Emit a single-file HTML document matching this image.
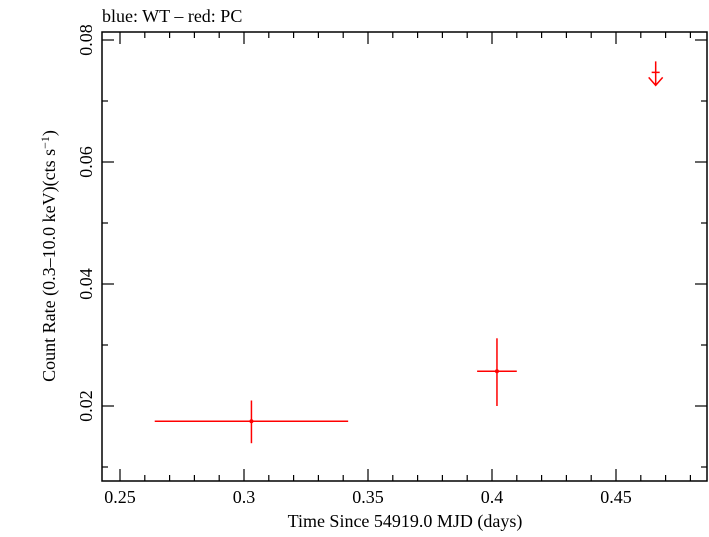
<!DOCTYPE html>
<html><head><meta charset="utf-8"><style>
body{margin:0;background:#fff}
svg text{font-family:"Liberation Serif",serif;fill:#000}
</style></head><body>
<svg id="c" width="709" height="532" xmlns="http://www.w3.org/2000/svg">
<text x="102" y="22" font-size="18">blue: WT – red: PC</text>
<rect x="102" y="32" width="605" height="449" fill="none" stroke="#000" stroke-width="1.5"/>
<g id="ticks"></g><g id="marks"></g>
<text x="405" y="527" font-size="18" text-anchor="middle">Time Since 54919.0 MJD (days)</text>
<text transform="translate(55,256) rotate(-90)" font-size="18" text-anchor="middle">Count Rate (0.3–10.0 keV)(cts s<tspan dy="-6" font-size="12">−1</tspan><tspan dy="6">)</tspan></text>
</svg>
<script>
const xTicks=[0.25,0.3,0.35,0.4,0.45];
const xTickLabels=["0.25","0.3","0.35","0.4","0.45"];
const yTicks=[0.02,0.04,0.06,0.08];
const yTickLabels=["0.02","0.04","0.06","0.08"];
const pcX=[0.303,0.402];
const pcXlo=[0.264,0.394];
const pcXhi=[0.342,0.410];
const pcY=[0.0175,0.0257];
const pcYlo=[0.0139,0.0200];
const pcYhi=[0.0209,0.0311];
const ulX=[0.466];
const ulY=[0.0765];
const L=102,R=707,T=32,B=481;
const X=v=>120+(v-0.25)*2480;
const Y=v=>406-(v-0.02)*6100;
const NS="http://www.w3.org/2000/svg";
function mk(tag,a,p){const e=document.createElementNS(NS,tag);for(const k in a)e.setAttribute(k,a[k]);p.appendChild(e);return e;}
const tg=document.getElementById('ticks'),mg=document.getElementById('marks');
for(let v=0.25;v<=0.4867;v+=0.01){const x=X(v);const maj=Math.abs((v*100)%5)<0.01||Math.abs((v*100)%5-5)<0.01;const l=maj?12:6;
 const t1=mk('line',{x1:x,x2:x,y1:B,y2:B-l,stroke:'#000','stroke-width':1.2},tg);
 const t2=mk('line',{x1:x,x2:x,y1:T,y2:T+l,stroke:'#000','stroke-width':1.2},tg);}
xTicks.forEach((v,i)=>{const t=mk('text',{x:X(v),y:503,'font-size':18,'text-anchor':'middle'},tg);t.textContent=xTickLabels[i];
 });
for(let v=0.01;v<=0.081;v+=0.01){const y=Y(v);const maj=Math.round(v*100)%2===0;const l=maj?12:6;
 const t1=mk('line',{x1:L,x2:L+l,y1:y,y2:y,stroke:'#000','stroke-width':1.2},tg);
 const t2=mk('line',{x1:R,x2:R-l,y1:y,y2:y,stroke:'#000','stroke-width':1.2},tg);}
yTicks.forEach((v,i)=>{const t=mk('text',{transform:`translate(92,${Y(v)}) rotate(-90)`,'font-size':18,'text-anchor':'middle'},tg);t.textContent=yTickLabels[i];
 });
pcX.forEach((v,i)=>{
 const h=mk('line',{x1:X(pcXlo[i]),x2:X(pcXhi[i]),y1:Y(pcY[i]),y2:Y(pcY[i]),stroke:'#f00','stroke-width':1.5},mg);
 
 const vv=mk('line',{x1:X(v),x2:X(v),y1:Y(pcYlo[i]),y2:Y(pcYhi[i]),stroke:'#f00','stroke-width':1.5},mg);
 
 const c=mk('circle',{cx:X(v),cy:Y(pcY[i]),r:2,fill:'#f00'},mg);
 });
ulX.forEach((v,i)=>{const x=X(v),y=Y(ulY[i]);
 const g=mk('path',{d:`M${x},${y} V${y+24} M${x-7},${y+16} L${x},${y+24} L${x+7},${y+16} M${x-4},${y+11} H${x+4}`,stroke:'#f00','stroke-width':1.5,fill:'none'},mg);
 });
</script>
</body></html>
